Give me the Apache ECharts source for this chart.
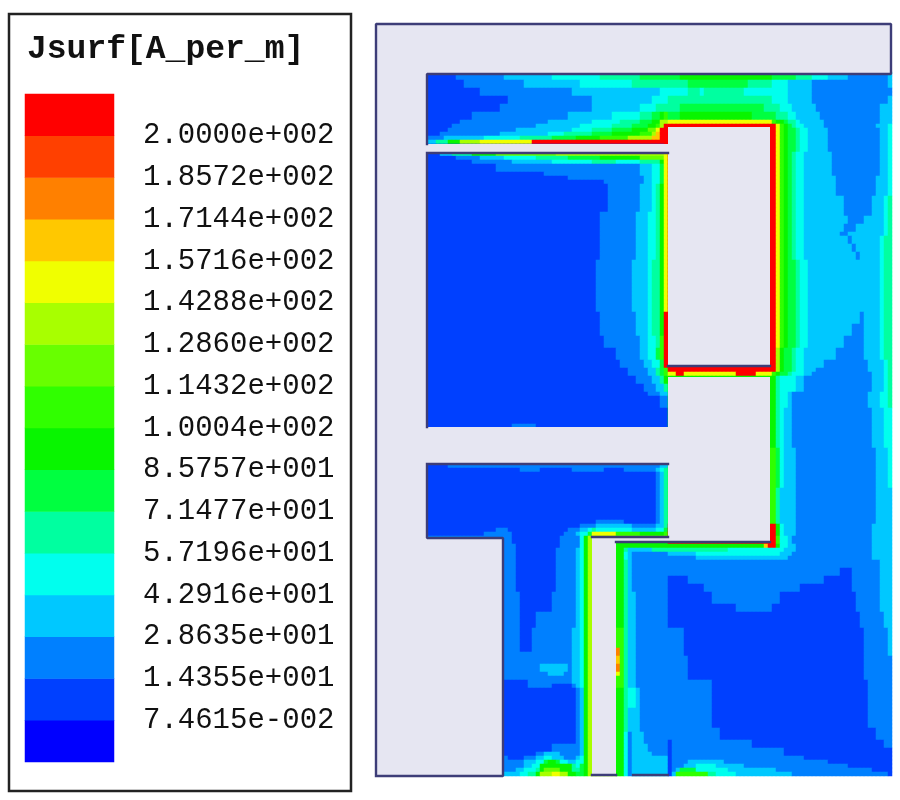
<!DOCTYPE html>
<html>
<head>
<meta charset="utf-8">
<style>html,body{margin:0;padding:0;background:#fff}#c{width:900px;height:800px}</style>
<script src="https://cdn.jsdelivr.net/npm/echarts@6/dist/echarts.min.js"></script>
</head>
<body>
<div id="c"></div>
<script>
const legendTitle = "Jsurf[A_per_m]";
const tickLabels = ["2.0000e+002","1.8572e+002","1.7144e+002","1.5716e+002","1.4288e+002","1.2860e+002","1.1432e+002","1.0004e+002","8.5757e+001","7.1477e+001","5.7196e+001","4.2916e+001","2.8635e+001","1.4355e+001","7.4615e-002"];
const levelColors = ["#0000ff","#0040ff","#0080ff","#00c8ff","#00ffee","#00ffa0","#00ff40","#08f500","#30ff00","#68ff00","#a8ff00","#f0ff00","#ffc800","#ff8000","#ff4000","#ff0000"];
// Field levels as rows of runs, "rowCount|level:endColumn ..." (level in hex).
const fieldLeft = [
"2|1:20 2:32 3:44 4:56 5:66 6:73","2|1:22 2:37 3:51 4:64 5:73","2|1:26 2:49 3:71 4:73","2|1:33 2:54 3:69 4:73",
"2|1:31 2:54 3:66 4:70 5:73","2|1:24 2:48 3:59 4:66 5:69 6:71 7:72 8:73","1|1:21 2:43 3:54 4:61 5:66 6:69 7:71 a:73",
"1|1:19 2:40 3:51 4:59 5:64 6:68 7:70 8:71 a:72 f:73","1|1:18 2:35 3:49 4:54 5:59 6:64 7:68 9:70 b:71 f:73",
"1|1:16 2:31 3:43 4:47 5:54 6:59 7:66 8:69 a:70 c:71 f:73","1|2:17 3:27 4:36 5:44 6:50 7:56 8:63 a:69 c:71 f:73",
"1|3:15 5:18 7:21 a:26 b:39 f:73","2|1:72 f:73","1|1:16 3:19 5:24 7:30 9:45 a:72 b:73",
"1|1:20 2:26 3:32 4:40 5:48 6:56 7:66 9:72 b:73","1|1:24 2:34 3:44 4:54 5:60 4:66 5:71 7:72 b:73",
"2|1:30 2:66 3:69 4:71 6:72 b:73","1|1:42 2:66 3:69 4:71 6:72 b:73","1|1:48 2:67 3:69 4:71 6:72 b:73","1|1:57 2:67 3:69 4:71 6:72 b:73",
"7|1:58 2:66 3:69 4:70 5:71 7:72 b:73","12|1:56 2:65 3:68 4:70 5:71 7:72 b:73","13|1:55 2:64 3:68 4:69 5:71 7:72 b:73",
"6|1:56 2:65 3:68 4:69 5:71 7:72 f:73","3|1:57 2:66 3:68 4:70 5:71 8:72 f:73","3|1:60 2:66 3:68 4:70 6:71 8:72 f:73",
"2|1:61 2:67 3:69 4:71 6:72 f:73","2|1:63 2:68 3:70 5:71 6:72 8:73","2|1:65 2:69 3:71 5:72 7:73","2|1:67 2:70 3:72 5:73",
"1|1:68 2:71 3:73","3|1:71 2:73","4|1:73","1|1:34 2:40 1:73","9|1:73","1|1:18 2:71 3:73",
"1|1:36 2:41 1:49 2:57 1:62 2:70 3:71 4:72 5:73","12|1:70 2:71 3:72 5:73","1|1:55 2:62 1:70 2:71 3:72 5:73",
"1|1:51 2:55 3:64 2:70 3:72 5:73","1|1:30 2:33 1:48 2:51 3:53 4:54 5:55 4:64 3:70 4:72 6:73",
"1|1:27 2:34 1:47 2:50 3:51 4:53 6:54 b:60 8:66 7:72 8:73",
"1|2:34 1:46 2:51 4:52 7:53 a:73","1|2:34 1:46 2:51 4:52 7:53 a:60 7:73","1|2:35 1:46 2:51 4:52 7:53 a:60 7:73",
"1|2:35 1:45 2:50 3:51 4:52 7:53 a:60 7:62 5:63 3:69 5:73","2|2:35 1:45 2:50 3:51 4:52 7:53 a:60 7:62 4:63 3:64 2:73",
"8|2:35 1:45 2:50 3:51 4:52 7:53 a:60 7:62 5:63 3:64 2:73","5|2:36 1:44 2:50 3:51 4:52 7:53 a:60 7:62 5:63 3:65 2:73",
"4|2:36 1:40 2:50 3:51 4:52 7:53 a:60 7:62 5:63 3:65 2:73","5|2:36 1:39 2:49 3:51 4:52 7:53 a:60 8:62 5:63 3:65 2:73",
"1|2:36 1:39 2:49 3:51 4:52 7:53 a:60 d:61 8:62 5:63 3:65 2:73","1|2:49 3:51 4:52 7:53 a:60 d:61 8:62 5:63 3:65 2:73",
"2|2:49 3:51 4:52 7:53 a:60 c:61 8:62 5:63 3:65 2:73","2|2:41 3:48 2:49 3:51 4:52 7:53 a:60 d:61 8:62 5:63 3:65 2:73",
"1|2:43 3:47 2:49 3:51 4:52 7:53 a:60 b:61 8:62 5:63 3:65 2:73","1|2:49 3:51 4:52 7:53 a:60 8:62 5:63 3:65 2:73",
"1|1:38 2:49 3:51 4:52 7:53 a:60 8:62 5:63 3:65 2:73","1|1:38 2:44 1:49 2:50 3:51 4:52 7:53 a:60 8:62 5:63 3:65 2:73",
"5|1:50 2:51 3:52 7:53 a:60 7:62 5:63 4:65 3:66 2:73","6|1:50 2:51 3:52 7:53 a:60 7:62 5:63 3:66 2:73",
"3|1:50 2:51 3:52 7:53 a:60 7:62 4:63 2:64 3:67 2:73","2|1:44 2:51 3:52 7:53 a:60 7:62 4:63 2:64 3:68 2:73",
"1|1:40 2:42 3:46 2:51 3:52 7:53 a:60 7:62 4:63 2:64 3:69 2:73","1|2:33 1:37 2:40 3:42 4:44 3:47 2:50 3:51 4:52 7:53 a:60 7:62 4:63 2:64 3:73",
"1|2:37 3:40 4:42 6:43 7:45 6:46 4:48 3:50 4:52 7:53 a:60 7:62 4:63 2:64 3:73","1|2:37 3:39 4:41 7:49 5:50 4:51 6:52 7:53 a:60 7:62 4:63 2:64 3:73",
"1|2:35 3:37 4:40 5:41 7:42 9:46 7:49 5:51 6:52 7:53 a:60 7:62 4:63 2:64 3:73","1|3:36 4:38 5:40 7:41 a:44 b:46 a:48 7:50 6:52 7:53 a:60 7:62 4:63 2:64 3:73"
];
const fieldRight = [
"2|6:76 7:99 6:105 5:109 4:113 3:118 2:128 3:129","2|5:78 6:93 5:99 4:103 3:109 2:128 3:129","2|4:78 5:81 4:82 5:92 4:103 3:109 2:129",
"2|5:99 4:103 3:109 2:128 3:129","2|5:76 6:97 5:101 4:104 3:110 2:126 3:129","2|6:76 7:94 6:100 5:103 4:105 3:111 2:126 3:129",
"1|b:99 8:100 7:102 6:103 5:105 4:106 3:112 2:126 3:129","1|f:100 b:101 8:102 7:103 6:104 5:105 4:107 3:112 2:125 3:128 4:129",
"6|f:100 b:101 8:102 7:103 6:105 5:106 4:108 3:113 2:126 3:128 4:129","6|f:100 b:101 8:102 7:103 6:104 5:105 4:107 3:114 2:126 3:128 4:129",
"5|f:100 b:101 8:102 7:103 6:104 5:105 4:107 3:115 2:125 3:128 4:129","5|f:100 b:101 8:102 7:103 6:104 5:105 4:107 3:117 2:124 3:127 4:128 5:129",
"2|f:100 b:101 8:102 7:103 6:104 5:105 4:107 3:118 2:122 3:127 4:128 5:129","2|f:100 b:101 8:102 7:103 6:104 5:105 4:107 3:117 2:120 3:127 4:128 5:129",
"1|f:100 b:101 8:102 7:103 6:104 5:105 4:107 3:116 2:118 3:127 4:128 5:129","2|f:100 b:101 8:102 7:103 6:104 5:105 4:107 3:118 2:119 3:126 4:127 5:129",
"2|f:100 b:101 8:102 7:103 6:104 5:105 4:107 3:119 2:120 3:126 4:127 5:129","2|f:100 b:101 8:102 7:103 6:104 5:105 4:107 3:120 2:121 3:126 4:127 5:129",
"13|f:100 b:101 8:102 7:103 6:105 5:106 4:108 3:126 4:127 5:129","3|f:100 b:101 8:102 7:103 6:105 5:106 4:108 3:121 2:122 3:126 4:127 5:129",
"3|f:100 b:101 8:102 7:103 6:105 5:106 4:108 3:119 2:122 3:126 4:127 5:129","3|f:100 b:101 8:102 7:103 6:105 5:106 4:108 3:117 2:122 3:126 4:127 5:129",
"3|f:100 a:101 7:102 6:104 5:105 4:107 3:115 2:122 3:126 4:127 5:129","2|f:100 a:101 7:102 6:104 5:105 4:107 3:112 2:123 3:127 4:128 5:129",
"1|f:100 a:101 7:102 6:104 5:105 4:107 3:110 2:123 3:127 4:128 5:129","1|b:75 f:77 b:90 f:95 b:99 8:100 7:101 6:103 5:104 4:107 3:109 2:124 3:127 4:128 5:129",
"4|7:100 5:101 4:105 3:107 2:124 3:127 4:128 5:129","4|7:100 5:101 4:103 3:104 2:123 3:126 4:128 5:129","10|7:100 5:101 4:102 3:104 2:124 3:127 4:129",
"10|8:100 6:101 4:102 3:105 2:125 3:128 4:129","9|8:100 5:101 3:105 2:125 3:129","3|f:100 7:101 4:102 3:105 2:124 3:129","2|f:100 8:101 4:103 3:104 2:124 3:129",
"1|7:97 c:98 f:100 7:101 4:103 3:105 2:124 3:129","1|5:88 4:102 3:105 2:124 3:129","1|3:80 4:101 3:104 2:124 3:129","1|2:80 3:103 2:124 3:129",
"2|2:126 3:129","2|2:116 1:119 2:126 3:129","2|1:78 2:112 1:119 2:126 3:129","2|1:82 2:106 1:119 2:126 3:129","3|1:84 2:101 1:120 2:126 3:129",
"2|1:90 2:99 1:120 2:126 3:129","4|1:121 2:127 3:129","7|2:77 1:122 2:128 3:129","6|2:78 1:122 2:129","12|2:84 1:123 2:129","3|2:86 1:125 2:129",
"2|1:74 2:94 1:127 2:129","2|1:74 2:102 1:129","1|1:74 2:107 1:129","1|1:74 2:78 3:87 2:113 1:129","1|1:74 2:77 3:80 4:85 3:92 2:118 1:129",
"1|1:74 2:75 3:76 6:80 4:88 3:100 2:124 1:129","1|1:74 3:75 8:83 5:85 4:90 3:104 2:128 1:129"
];
// Model geometry, in the field's own units: non-conducting blocks [x0,y0,x1,y1] and conductor outlines.
const blocks = [[376,24,891,74],[376,24,427,776],[376,538,503,776],[427,144,668,152],[668,127,770,366],[668,377,770,542],[427,427,668,464],[592,537,668,542],[592,537,616,776]];
const outlines = [
 [[376,776],[376,24],[891,24],[891,74],[427,74],[427,144]],
 [[427,153],[668,153]],[[427,153],[427,427]],
 [[427,464],[668,464]],[[427,464],[427,538],[503,538],[503,776],[376,776]],
 [[592,537],[668,537]],[[616,542],[770,542]],[[592,775],[616,775]],[[633,775],[668,775]],
 [[668,366],[770,366]]
];

const COLS = 129, ROWS = 188, FIRST_ROW = 12;
const grid = new Map();
function decode(list, startCol) {
  let r = FIRST_ROW;
  for (const g of list) {
    const [n, runs] = g.split("|");
    for (let k = 0; k < +n; k++, r++) {
      let c = startCol;
      for (const run of runs.split(" ")) {
        const [lv, end] = run.split(":");
        for (; c < +end; c++) grid.set(c + "," + r, parseInt(lv, 16));
      }
    }
  }
}
decode(fieldLeft, 12);
decode(fieldRight, 73);
const fieldData = [];
grid.forEach((v, k) => { const [c, r] = k.split(",").map(Number); fieldData.push([c, r, v]); });
const legendData = levelColors.map((_, i) => [0, 15 - i, i]);
const outlineData = [];
outlines.forEach(o => { o.forEach(p => outlineData.push(p)); outlineData.push([null, null]); });

const chart = echarts.init(document.getElementById("c"), null, {renderer: "canvas"});
const mono = "Liberation Mono";
chart.setOption({
  animation: false,
  backgroundColor: "#ffffff",
  title: {text: legendTitle, left: 27, top: 33, padding: 0, textStyle: {fontFamily: mono, fontWeight: "bold", fontSize: 33, color: "#111"}},
  graphic: [{type: "rect", silent: true, shape: {x: 9, y: 14, width: 342, height: 777}, style: {fill: "none", stroke: "#222", lineWidth: 2.5}}],
  grid: [
    {left: 376, top: 24, width: 516, height: 752, show: true, backgroundColor: "#e6e6f2", borderWidth: 0},
    {left: 25, top: 94, width: 89, height: 668, show: false}
  ],
  visualMap: {type: "piecewise", show: false, seriesIndex: [0, 1], dimension: 2, pieces: levelColors.map((c, i) => ({value: i, color: c}))},
  xAxis: [
    {type: "category", gridIndex: 0, data: Array.from({length: COLS}, (_, i) => i), show: false},
    {type: "value", gridIndex: 0, min: 376, max: 892, show: false},
    {type: "category", gridIndex: 1, data: ["band"], show: false}
  ],
  yAxis: [
    {type: "category", gridIndex: 0, inverse: true, data: Array.from({length: ROWS}, (_, i) => i), show: false},
    {type: "value", gridIndex: 0, inverse: true, min: 24, max: 776, show: false},
    {type: "category", gridIndex: 1, inverse: true, data: levelColors.map((_, i) => i), show: false},
    {type: "value", gridIndex: 1, inverse: true, position: "right", min: 0, max: 16, interval: 1, splitLine: {show: false},
     axisLine: {show: false}, axisTick: {show: false},
     axisLabel: {margin: 29, fontFamily: mono, fontSize: 29, color: "#111", formatter: v => tickLabels[v - 1] || ""}}
  ],
  series: [
    {type: "heatmap", xAxisIndex: 0, yAxisIndex: 0, data: fieldData, progressive: 0, silent: true, z: 2},
    {type: "heatmap", xAxisIndex: 2, yAxisIndex: 2, data: legendData, progressive: 0, silent: true, z: 2},
    {type: "custom", xAxisIndex: 1, yAxisIndex: 1, data: blocks, silent: true, z: 3, clip: false,
     encode: {x: [0, 2], y: [1, 3]},
     renderItem: (p, api) => {
       const a = api.coord([api.value(0), api.value(1)]), b = api.coord([api.value(2), api.value(3)]);
       return {type: "rect", shape: {x: a[0], y: a[1], width: b[0] - a[0], height: b[1] - a[1]}, style: {fill: "#e6e6f2", stroke: null}};
     }},
    {type: "line", xAxisIndex: 1, yAxisIndex: 1, data: outlineData, connectNulls: false, showSymbol: false, symbol: "none", clip: false, silent: true, z: 4,
     lineStyle: {color: "#3d3d78", width: 2.4, cap: "square"}}
  ]
});
</script>
</body>
</html>
